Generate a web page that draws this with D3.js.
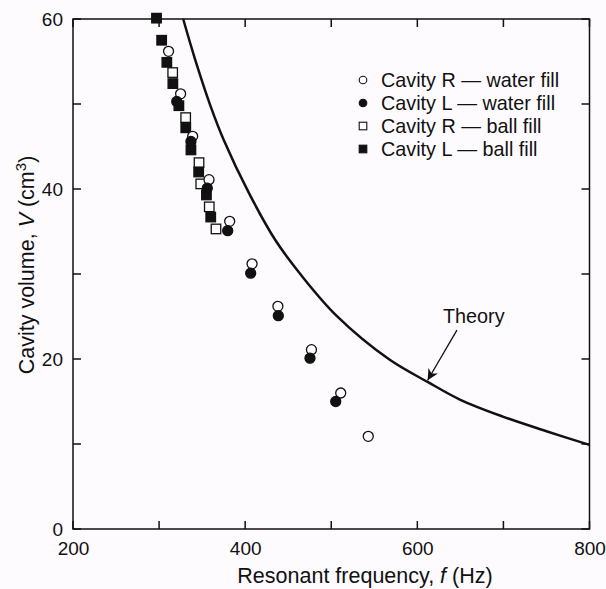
<!DOCTYPE html>
<html>
<head>
<meta charset="utf-8">
<script src="https://cdn.jsdelivr.net/npm/d3@7"></script>
<style>
  html, body { margin: 0; padding: 0; background: #fdfbfd; }
  svg { display: block; }
  text { font-family: "Liberation Sans", Arial, Helvetica, sans-serif; fill: #111; }
</style>
</head>
<body>
<svg id="chart" width="606" height="589"></svg>
<script>
// ---- Data ----
const xTickValues = [200, 300, 400, 500, 600, 700, 800];
const xTickLabels = ["200", "", "400", "", "600", "", "800"];
const yTickValues = [0, 10, 20, 30, 40, 50, 60];
const yTickLabels = ["0", "", "20", "", "40", "", "60"];

const waterR_f = [311, 325, 339, 358, 382, 408, 438, 477, 511, 543];
const waterR_V = [56.2, 51.2, 46.2, 41.1, 36.2, 31.2, 26.2, 21.1, 16.0, 10.9];

const waterL_f = [320.5, 337, 356, 379.7, 406.4, 438.5, 475.3, 505.2];
const waterL_V = [50.3, 45.6, 40.1, 35.1, 30.1, 25.1, 20.1, 15.0];

const ballR_f = [315.8, 330.9, 346.4, 348.4, 358.3, 366.1];
const ballR_V = [53.7, 48.4, 43.1, 40.6, 37.9, 35.3];

const ballL_f = [297, 303, 309, 316, 323, 331, 337, 346, 355, 360];
const ballL_V = [60.1, 57.5, 54.9, 52.4, 49.8, 47.2, 44.6, 42.0, 39.3, 36.7];

const theory_f = [328, 342, 360, 375, 404, 435, 464, 506, 568, 612, 650, 700, 750, 800];
const theory_V = [60, 55.2, 49.7, 45.8, 39.6, 34.0, 30.0, 25.1, 19.9, 17.3, 15.2, 13.2, 11.5, 9.9];

const legendLabels = ["Cavity R \u2014 water fill", "Cavity L \u2014 water fill",
                      "Cavity R \u2014 ball fill", "Cavity L \u2014 ball fill"];
const theoryLabel = "Theory";
const theoryArrowFrom = [646, 23.4];   // f, V of arrow tail
const theoryArrowTo = [612, 17.5];     // f, V of arrow tip

(function draw() {
  const svg = d3.select("#chart");
  const pL = 73, pR = 589.5, pT = 19, pB = 529;
  const x = d3.scaleLinear().domain([200, 800]).range([pL, pR]);
  const y = d3.scaleLinear().domain([0, 60]).range([pB, pT]);
  const FS = 19;      // tick labels
  const FL = 19.8;    // legend
  const FT = 21.5;    // axis titles
  const TK = 8;       // tick length (inward)
  const ink = "#111";
  const paper = "#fdfbfd";

  // axis labels via d3 axes (tick lines hidden; drawn explicitly below)
  function styleAxis(g) {
    g.select(".domain").remove();
    g.selectAll(".tick line").remove();
    g.selectAll(".tick text").attr("font-size", FS).attr("fill", ink)
      .style("font-family", "'Liberation Sans', Arial, sans-serif");
  }
  svg.append("g").attr("transform", `translate(0,${pB})`)
    .call(d3.axisBottom(x).tickValues(xTickValues).tickSize(0).tickPadding(13)
      .tickFormat((d, i) => xTickLabels[i]))
    .call(styleAxis);
  svg.append("g").attr("transform", `translate(${pL},0)`)
    .call(d3.axisLeft(y).tickValues(yTickValues).tickSize(0).tickPadding(10)
      .tickFormat((d, i) => yTickLabels[i]))
    .call(styleAxis);

  // inward ticks on all four sides
  const tg = svg.append("g").attr("stroke", ink).attr("stroke-width", 1.5);
  xTickValues.forEach(v => {
    tg.append("line").attr("x1", x(v)).attr("x2", x(v)).attr("y1", pB).attr("y2", pB - TK);
    tg.append("line").attr("x1", x(v)).attr("x2", x(v)).attr("y1", pT).attr("y2", pT + TK);
  });
  yTickValues.forEach(v => {
    tg.append("line").attr("y1", y(v)).attr("y2", y(v)).attr("x1", pL).attr("x2", pL + TK);
    tg.append("line").attr("y1", y(v)).attr("y2", y(v)).attr("x1", pR).attr("x2", pR - TK);
  });

  // frame
  svg.append("rect").attr("x", pL).attr("y", pT)
    .attr("width", pR - pL).attr("height", pB - pT)
    .attr("fill", "none").attr("stroke", ink).attr("stroke-width", 1.5);

  const xt = svg.append("text").attr("x", 365).attr("y", 583)
    .attr("text-anchor", "middle").attr("font-size", FT);
  xt.append("tspan").text("Resonant frequency, ");
  xt.append("tspan").attr("font-style", "italic").text("f");
  xt.append("tspan").text("\u00a0(Hz)");

  const yt = svg.append("text").attr("transform", "translate(34,265) rotate(-90)")
    .attr("text-anchor", "middle").attr("font-size", FT);
  yt.append("tspan").text("Cavity volume, ");
  yt.append("tspan").attr("font-style", "italic").text("V");
  yt.append("tspan").text("\u00a0(cm");
  yt.append("tspan").attr("font-size", FT * 0.7).attr("dy", -8).text("3");
  yt.append("tspan").attr("dy", 8).text(")");

  const line = d3.line().x(d => x(d[0])).y(d => y(d[1])).curve(d3.curveCatmullRom.alpha(0.5));
  svg.append("path").datum(d3.zip(theory_f, theory_V))
    .attr("d", line).attr("fill", "none").attr("stroke", ink).attr("stroke-width", 2.5);

  const R = 5, S = 9.5;
  function circles(fs, vs, filled) {
    svg.append("g").selectAll("circle").data(d3.zip(fs, vs)).join("circle")
      .attr("cx", d => x(d[0])).attr("cy", d => y(d[1])).attr("r", R)
      .attr("fill", filled ? ink : paper).attr("stroke", ink).attr("stroke-width", 1.3);
  }
  function squares(fs, vs, filled) {
    svg.append("g").selectAll("rect").data(d3.zip(fs, vs)).join("rect")
      .attr("x", d => x(d[0]) - S / 2).attr("y", d => y(d[1]) - S / 2)
      .attr("width", S).attr("height", S)
      .attr("fill", filled ? ink : paper).attr("stroke", ink).attr("stroke-width", 1.3);
  }
  squares(ballR_f, ballR_V, false);
  squares(ballL_f, ballL_V, true);
  circles(waterR_f, waterR_V, false);
  circles(waterL_f, waterL_V, true);

  const lx = 363, ly0 = 80, lstep = 23;
  const lg = svg.append("g");
  legendLabels.forEach((lab, i) => {
    const cy = ly0 + i * lstep;
    if (i < 2) {
      lg.append("circle").attr("cx", lx).attr("cy", cy).attr("r", 3.8)
        .attr("fill", i === 1 ? ink : paper).attr("stroke", ink).attr("stroke-width", 1.1);
    } else {
      lg.append("rect").attr("x", lx - 3.8).attr("y", cy - 3.8).attr("width", 7.6).attr("height", 7.6)
        .attr("fill", i === 3 ? ink : paper).attr("stroke", ink).attr("stroke-width", 1.1);
    }
    lg.append("text").attr("x", 381).attr("y", cy).attr("dy", "0.35em")
      .attr("font-size", FL).text(lab);
  });

  svg.append("defs").append("marker").attr("id", "ah")
    .attr("viewBox", "0 0 10 10").attr("refX", 10).attr("refY", 5)
    .attr("markerWidth", 11).attr("markerHeight", 11).attr("markerUnits", "userSpaceOnUse")
    .attr("orient", "auto")
    .append("path").attr("d", "M0,0 L10,5 L0,10 L3,5 Z").attr("fill", ink);
  svg.append("line")
    .attr("x1", x(theoryArrowFrom[0])).attr("y1", y(theoryArrowFrom[1]))
    .attr("x2", x(theoryArrowTo[0])).attr("y2", y(theoryArrowTo[1]))
    .attr("stroke", ink).attr("stroke-width", 1.3).attr("marker-end", "url(#ah)");
  svg.append("text").attr("x", 443).attr("y", 316).attr("dy", "0.35em")
    .attr("font-size", FL).text(theoryLabel);
})();
</script>
</body>
</html>
